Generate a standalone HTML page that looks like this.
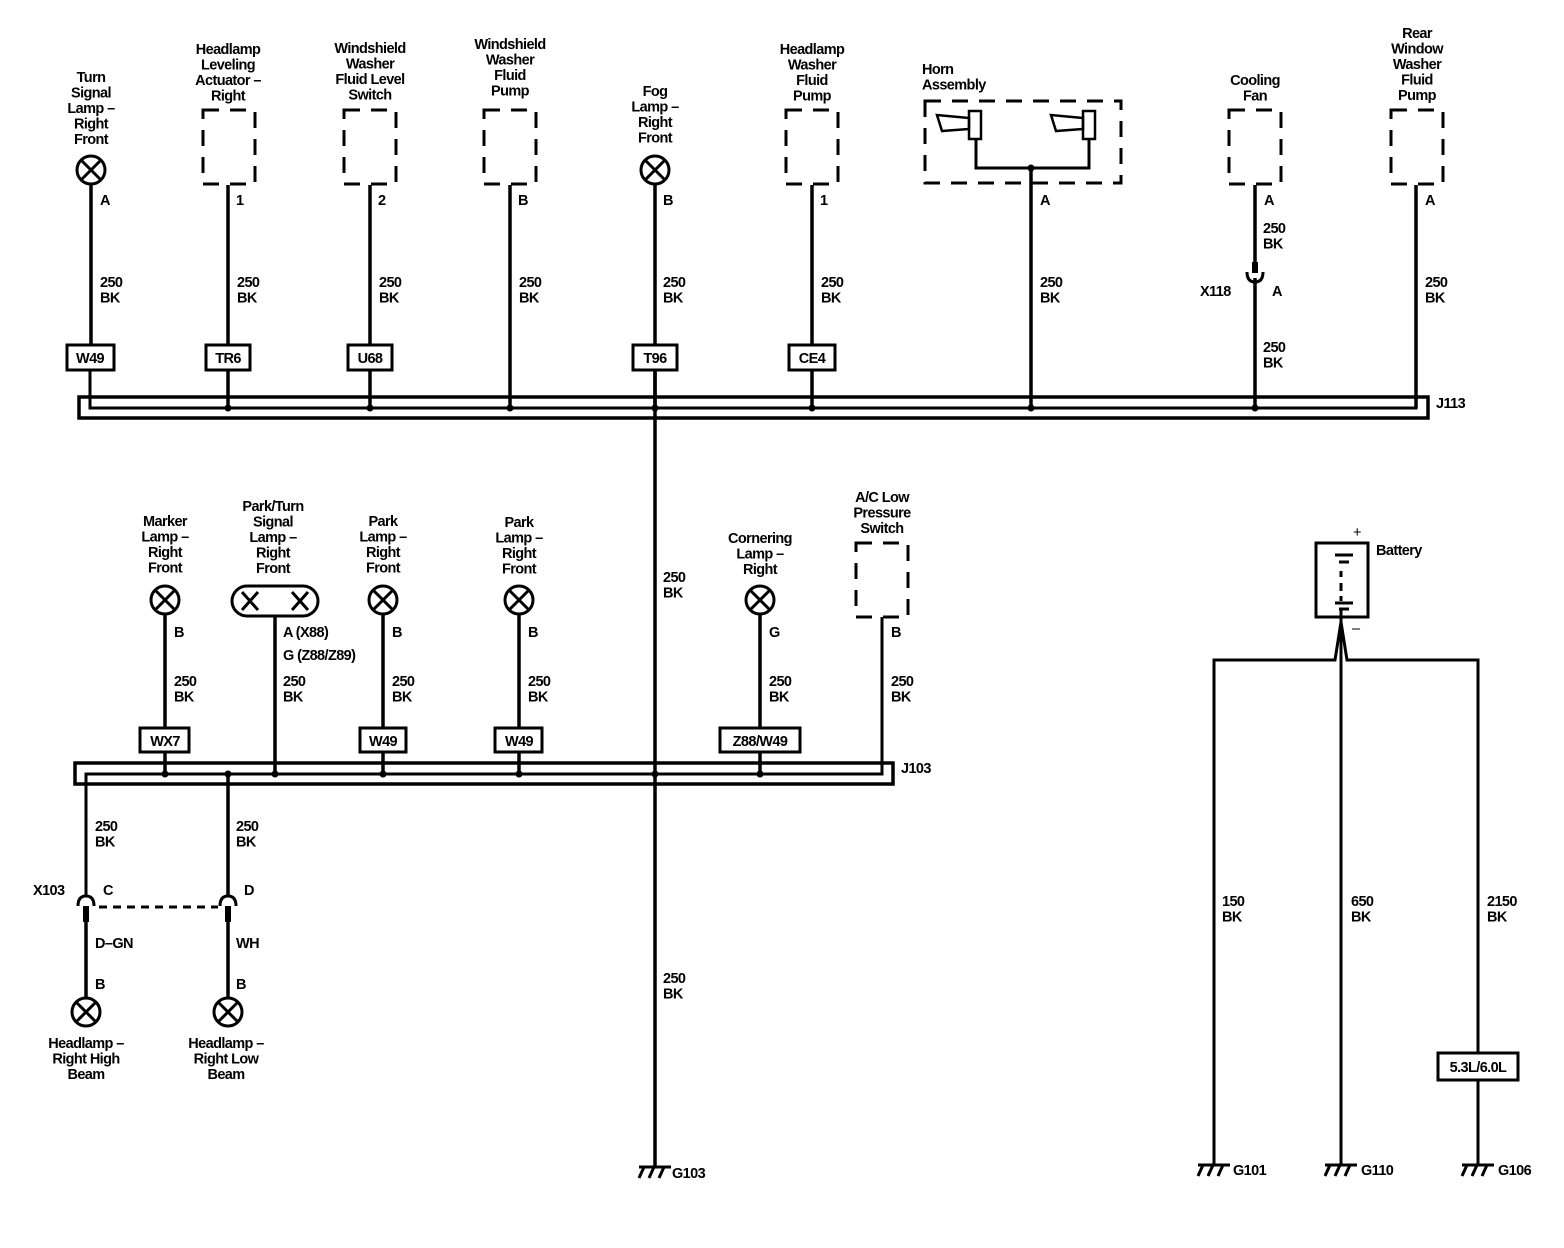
<!DOCTYPE html>
<html><head><meta charset="utf-8"><style>
html,body{margin:0;padding:0;background:#fff}
svg{display:block}
text{font-family:"Liberation Sans",Arial,sans-serif;font-size:14.5px;font-weight:bold;fill:#000;letter-spacing:-0.6px}
.c{text-anchor:middle}
</style></head><body>
<svg width="1564" height="1248" viewBox="0 0 1564 1248" xmlns="http://www.w3.org/2000/svg">
<defs>
<g id="lamp"><circle r="14" fill="#fff" stroke="#000" stroke-width="3"/><path d="M-9.5,-9.5L9.5,9.5M9.5,-9.5L-9.5,9.5" stroke="#000" stroke-width="3"/></g>
<g id="gnd" stroke="#000" stroke-width="3" fill="none"><path d="M-16,0H16M-11,0L-16,11M-1,0L-6,11M9,0L4,11"/></g>
</defs>
<g stroke="#000" stroke-width="3.5" fill="none">
<!-- J113 bus -->
<rect x="79" y="397" width="1349" height="21" stroke-width="3.5"/>
<path d="M90,370V408H1416V185" stroke-width="3"/>
<!-- top wires -->
<path d="M91,184V345M228,185V345M370,185V345M510,185V408M655,184V1167M812,185V345M1031,170V408M1255,185V262M1255,278V408M1416,185V408"/>
<path d="M228,370V408M370,370V408M812,370V408M655,370V408"/>
<!-- dashed boxes top -->
<g stroke-dasharray="16,11" stroke-width="3">
<rect x="203" y="110" width="52" height="74"/>
<rect x="344" y="110" width="52" height="74"/>
<rect x="484" y="110" width="52" height="74"/>
<rect x="786" y="110" width="52" height="74"/>
<rect x="1229" y="110" width="52" height="74"/>
<rect x="1391" y="110" width="52" height="74"/>
<rect x="925" y="101" width="196" height="82"/>
<rect x="856" y="543" width="52" height="74"/>
</g>
<!-- horn -->
<path d="M976,140V168H1089V140" stroke-width="3"/>
<rect x="969" y="111" width="12" height="28" stroke-width="2.5"/>
<rect x="1083" y="111" width="12" height="28" stroke-width="2.5"/>
<path d="M969,118L937,115L942,131L969,129Z" stroke-width="2.5"/>
<path d="M1083,118L1051,115L1056,131L1083,129Z" stroke-width="2.5"/>
<!-- X118 -->
<path d="M1255,262V273" stroke-width="6"/>
<path d="M1247,272Q1247,282 1255,282Q1263,282 1263,272" stroke-width="3"/>
<!-- J103 bus -->
<rect x="75" y="763" width="818" height="21" stroke-width="3.5"/>
<path d="M86,895V774H882V617" stroke-width="3"/>
<path d="M165,614V728M165,752V774M275,616V774M383,614V728M383,752V774M519,614V728M519,752V774M760,614V728M760,752V774M228,774V895"/>
<rect x="232" y="586" width="86" height="30" rx="15" stroke-width="3"/>
<path d="M242,592L258,610M258,592L242,610M292,592L308,610M308,592L292,610" stroke-width="3"/>
<!-- X103 -->
<path d="M78,906Q78,896 86,896Q94,896 94,906M220,906Q220,896 228,896Q236,896 236,906" stroke-width="3"/>
<path d="M99,907H218" stroke-width="3" stroke-dasharray="8,6"/>
<path d="M86,906V922M228,906V922" stroke-width="6"/>
<path d="M86,922V998M228,922V998"/>
<!-- battery -->
<rect x="1316" y="543" width="52" height="74" stroke-width="3"/>
<path d="M1335,555H1353M1339,562H1349M1341,571V577M1341,583V591M1341,596V601M1335,603H1353M1339,609H1349" stroke-width="3"/>
<path d="M1341,609V1165M1341,622L1335,660H1214V1165M1341,622L1347,660H1478V1053M1478,1080V1165" stroke-width="3"/>
</g>
<!-- lamps -->
<use href="#lamp" x="91" y="170"/>
<use href="#lamp" x="655" y="170"/>
<use href="#lamp" x="165" y="600"/>
<use href="#lamp" x="383" y="600"/>
<use href="#lamp" x="519" y="600"/>
<use href="#lamp" x="760" y="600"/>
<use href="#lamp" x="86" y="1012"/>
<use href="#lamp" x="228" y="1012"/>
<!-- junction dots -->
<g fill="#000">
<circle cx="228" cy="408" r="3.5"/><circle cx="370" cy="408" r="3.5"/><circle cx="510" cy="408" r="3.5"/><circle cx="655" cy="408" r="3.5"/><circle cx="812" cy="408" r="3.5"/><circle cx="1031" cy="408" r="3.5"/><circle cx="1255" cy="408" r="3.5"/><circle cx="1031" cy="168" r="3.5"/>
<circle cx="165" cy="774" r="3.5"/><circle cx="228" cy="774" r="3.5"/><circle cx="275" cy="774" r="3.5"/><circle cx="383" cy="774" r="3.5"/><circle cx="519" cy="774" r="3.5"/><circle cx="655" cy="774" r="3.5"/><circle cx="760" cy="774" r="3.5"/>
</g>
<!-- option boxes -->
<g fill="#fff" stroke="#000" stroke-width="3">
<rect x="67" y="345" width="47" height="25"/><rect x="206" y="345" width="44" height="25"/><rect x="348" y="345" width="44" height="25"/><rect x="633" y="345" width="44" height="25"/><rect x="789" y="345" width="46" height="25"/>
<rect x="140" y="728" width="49" height="24"/><rect x="360" y="728" width="46" height="24"/><rect x="495" y="728" width="47" height="24"/><rect x="720" y="728" width="80" height="24"/>
<rect x="1438" y="1053" width="80" height="27"/>
</g>
<g class="c">
<text x="90" y="363" class="c">W49</text><text x="228" y="363" class="c">TR6</text><text x="370" y="363" class="c">U68</text><text x="655" y="363" class="c">T96</text><text x="812" y="363" class="c">CE4</text>
<text x="165" y="746" class="c">WX7</text><text x="383" y="746" class="c">W49</text><text x="519" y="746" class="c">W49</text><text x="760" y="746" class="c">Z88/W49</text>
<text x="1478" y="1072" class="c">5.3L/6.0L</text>
</g>
<!-- grounds -->
<use href="#gnd" x="655" y="1167"/><use href="#gnd" x="1214" y="1165"/><use href="#gnd" x="1341" y="1165"/><use href="#gnd" x="1478" y="1165"/>
<text x="672" y="1178">G103</text><text x="1233" y="1175">G101</text><text x="1361" y="1175">G110</text><text x="1498" y="1175">G106</text>
<!-- top titles -->
<text class="c" x="91" y="82">Turn<tspan x="91" dy="15.5">Signal</tspan><tspan x="91" dy="15.5">Lamp –</tspan><tspan x="91" dy="15.5">Right</tspan><tspan x="91" dy="15.5">Front</tspan></text>
<text class="c" x="228" y="54">Headlamp<tspan x="228" dy="15.5">Leveling</tspan><tspan x="228" dy="15.5">Actuator –</tspan><tspan x="228" dy="15.5">Right</tspan></text>
<text class="c" x="370" y="53">Windshield<tspan x="370" dy="15.5">Washer</tspan><tspan x="370" dy="15.5">Fluid Level</tspan><tspan x="370" dy="15.5">Switch</tspan></text>
<text class="c" x="510" y="49">Windshield<tspan x="510" dy="15.5">Washer</tspan><tspan x="510" dy="15.5">Fluid</tspan><tspan x="510" dy="15.5">Pump</tspan></text>
<text class="c" x="655" y="96">Fog<tspan x="655" dy="15.5">Lamp –</tspan><tspan x="655" dy="15.5">Right</tspan><tspan x="655" dy="15.5">Front</tspan></text>
<text class="c" x="812" y="54">Headlamp<tspan x="812" dy="15.5">Washer</tspan><tspan x="812" dy="15.5">Fluid</tspan><tspan x="812" dy="15.5">Pump</tspan></text>
<text x="922" y="74">Horn<tspan x="922" dy="15.5">Assembly</tspan></text>
<text class="c" x="1255" y="85">Cooling<tspan x="1255" dy="15.5">Fan</tspan></text>
<text class="c" x="1417" y="38">Rear<tspan x="1417" dy="15.5">Window</tspan><tspan x="1417" dy="15.5">Washer</tspan><tspan x="1417" dy="15.5">Fluid</tspan><tspan x="1417" dy="15.5">Pump</tspan></text>
<!-- top pins -->
<text x="100" y="205">A</text><text x="236" y="205">1</text><text x="378" y="205">2</text><text x="518" y="205">B</text><text x="663" y="205">B</text><text x="820" y="205">1</text><text x="1040" y="205">A</text><text x="1264" y="205">A</text><text x="1425" y="205">A</text>
<!-- top wire labels -->
<g>
<text x="100" y="287">250<tspan x="100" dy="15.5">BK</tspan></text>
<text x="237" y="287">250<tspan x="237" dy="15.5">BK</tspan></text>
<text x="379" y="287">250<tspan x="379" dy="15.5">BK</tspan></text>
<text x="519" y="287">250<tspan x="519" dy="15.5">BK</tspan></text>
<text x="663" y="287">250<tspan x="663" dy="15.5">BK</tspan></text>
<text x="821" y="287">250<tspan x="821" dy="15.5">BK</tspan></text>
<text x="1040" y="287">250<tspan x="1040" dy="15.5">BK</tspan></text>
<text x="1263" y="233">250<tspan x="1263" dy="15.5">BK</tspan></text>
<text x="1263" y="352">250<tspan x="1263" dy="15.5">BK</tspan></text>
<text x="1425" y="287">250<tspan x="1425" dy="15.5">BK</tspan></text>
<text x="1200" y="296">X118</text><text x="1272" y="296">A</text>
<text x="1436" y="408">J113</text>
<text x="663" y="582">250<tspan x="663" dy="15.5">BK</tspan></text>
<text x="663" y="983">250<tspan x="663" dy="15.5">BK</tspan></text>
</g>
<!-- lower titles -->
<text class="c" x="165" y="526">Marker<tspan x="165" dy="15.5">Lamp –</tspan><tspan x="165" dy="15.5">Right</tspan><tspan x="165" dy="15.5">Front</tspan></text>
<text class="c" x="273" y="511">Park/Turn<tspan x="273" dy="15.5">Signal</tspan><tspan x="273" dy="15.5">Lamp –</tspan><tspan x="273" dy="15.5">Right</tspan><tspan x="273" dy="15.5">Front</tspan></text>
<text class="c" x="383" y="526">Park<tspan x="383" dy="15.5">Lamp –</tspan><tspan x="383" dy="15.5">Right</tspan><tspan x="383" dy="15.5">Front</tspan></text>
<text class="c" x="519" y="527">Park<tspan x="519" dy="15.5">Lamp –</tspan><tspan x="519" dy="15.5">Right</tspan><tspan x="519" dy="15.5">Front</tspan></text>
<text class="c" x="760" y="543">Cornering<tspan x="760" dy="15.5">Lamp –</tspan><tspan x="760" dy="15.5">Right</tspan></text>
<text class="c" x="882" y="502">A/C Low<tspan x="882" dy="15.5">Pressure</tspan><tspan x="882" dy="15.5">Switch</tspan></text>
<text x="174" y="637">B</text><text x="283" y="637">A (X88)</text><text x="283" y="660">G (Z88/Z89)</text><text x="392" y="637">B</text><text x="528" y="637">B</text><text x="769" y="637">G</text><text x="891" y="637">B</text>
<text x="174" y="686">250<tspan x="174" dy="15.5">BK</tspan></text>
<text x="283" y="686">250<tspan x="283" dy="15.5">BK</tspan></text>
<text x="392" y="686">250<tspan x="392" dy="15.5">BK</tspan></text>
<text x="528" y="686">250<tspan x="528" dy="15.5">BK</tspan></text>
<text x="769" y="686">250<tspan x="769" dy="15.5">BK</tspan></text>
<text x="891" y="686">250<tspan x="891" dy="15.5">BK</tspan></text>
<text x="901" y="773">J103</text>
<text x="95" y="831">250<tspan x="95" dy="15.5">BK</tspan></text>
<text x="236" y="831">250<tspan x="236" dy="15.5">BK</tspan></text>
<text x="33" y="895">X103</text><text x="103" y="895">C</text><text x="244" y="895">D</text>
<text x="95" y="948">D–GN</text><text x="236" y="948">WH</text>
<text x="95" y="989">B</text><text x="236" y="989">B</text>
<text class="c" x="86" y="1048">Headlamp –<tspan x="86" dy="15.5">Right High</tspan><tspan x="86" dy="15.5">Beam</tspan></text>
<text class="c" x="226" y="1048">Headlamp –<tspan x="226" dy="15.5">Right Low</tspan><tspan x="226" dy="15.5">Beam</tspan></text>
<!-- battery labels -->
<text x="1353" y="537" style="font-weight:normal">+</text>
<text x="1376" y="555">Battery</text>
<text x="1352" y="633" style="font-weight:normal">–</text>
<text x="1222" y="906">150<tspan x="1222" dy="15.5">BK</tspan></text>
<text x="1351" y="906">650<tspan x="1351" dy="15.5">BK</tspan></text>
<text x="1487" y="906">2150<tspan x="1487" dy="15.5">BK</tspan></text>
</svg>
</body></html>
